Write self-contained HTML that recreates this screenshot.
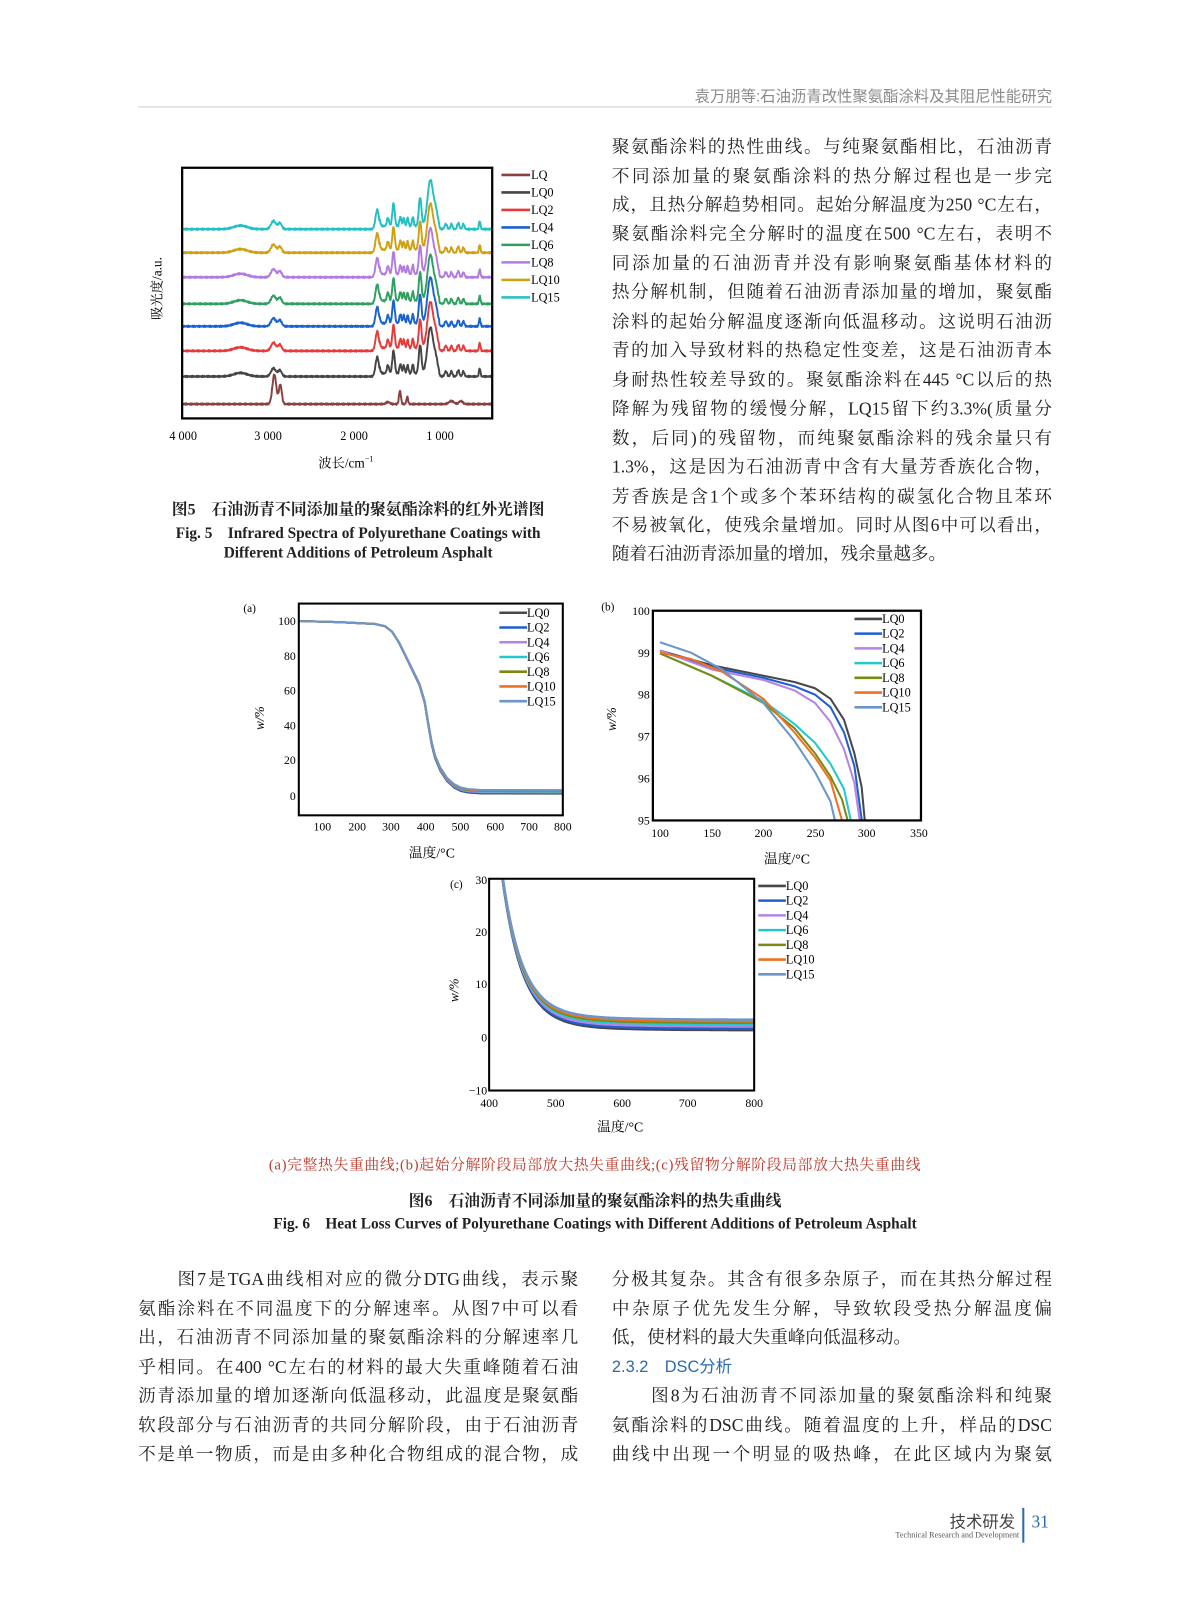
<!DOCTYPE html>
<html><head><meta charset="utf-8">
<style>
html,body{margin:0;padding:0;background:#fff;width:1187px;height:1600px;overflow:hidden}
#pg{position:absolute;left:0;top:0;width:1160px;height:1564px;transform:scale(1.0233,1.0230);transform-origin:0 0;font-family:"Liberation Serif","Noto Serif CJK SC",serif;color:#222}
.l{position:absolute;font-size:17.2px;line-height:20px;white-space:nowrap;text-align:justify;text-align-last:justify;height:22px}
.nl{text-align-last:left}
.cap{position:absolute;font-size:15.5px;font-weight:bold;white-space:nowrap;text-align:center}
svg text{font-family:"Liberation Serif","Noto Serif CJK SC",serif}
</style></head><body><div id="pg">
<div style="position:absolute;right:132px;top:83px;font-size:15px;color:#8a8a8a;font-family:'Liberation Sans','Noto Sans CJK SC',sans-serif">袁万朋等:石油沥青改性聚氨酯涂料及其阻尼性能研究</div>
<div style="position:absolute;left:135px;top:104px;width:893px;height:1px;background:#ccc"></div>

<svg id="s" width="1160" height="1564" style="position:absolute;left:0;top:0" font-size="12">
<g id="ir"></g>
<rect x="178" y="164" width="303" height="245" fill="none" stroke="#000" stroke-width="2.2"/>
<g font-size="12" text-anchor="middle">
<text x="179" y="430">4 000</text><text x="262" y="430">3 000</text><text x="346" y="430">2 000</text><text x="430" y="430">1 000</text>
<text x="338" y="457" font-size="13">波长/cm<tspan font-size="8" dy="-6">−1</tspan></text>
<text transform="translate(158,282) rotate(-90)" font-size="13">吸光度/a.u.</text>
</g>
<g id="irleg" font-size="12"></g>
<g id="ta"></g>
<rect x="292" y="590" width="258" height="207" fill="none" stroke="#000" stroke-width="2"/>
<g font-size="11.5" text-anchor="end">
<text x="289" y="611">100</text><text x="289" y="645">80</text><text x="289" y="679">60</text><text x="289" y="713">40</text><text x="289" y="747">20</text><text x="289" y="782">0</text>
</g>
<g font-size="11.5" text-anchor="middle">
<text x="315" y="812">100</text><text x="349" y="812">200</text><text x="382" y="812">300</text><text x="416" y="812">400</text><text x="450" y="812">500</text><text x="484" y="812">600</text><text x="517" y="812">700</text><text x="550" y="812">800</text>
<text x="422" y="838" font-size="13.5">温度/°C</text>
<text x="244" y="598" font-size="11">(a)</text>
<text transform="translate(258,702) rotate(-90)" font-size="13" font-style="italic">w/%</text>
</g>
<g id="tb"></g>
<rect x="638" y="597" width="262" height="205" fill="none" stroke="#000" stroke-width="2.2"/>
<g font-size="11.5" text-anchor="end">
<text x="635" y="601">100</text><text x="635" y="642">99</text><text x="635" y="683">98</text><text x="635" y="724">97</text><text x="635" y="765">96</text><text x="635" y="806">95</text>
</g>
<g font-size="11.5" text-anchor="middle">
<text x="645" y="818">100</text><text x="696" y="818">150</text><text x="746" y="818">200</text><text x="797" y="818">250</text><text x="847" y="818">300</text><text x="898" y="818">350</text>
<text x="769" y="844" font-size="13.5">温度/°C</text>
<text x="594" y="597" font-size="11">(b)</text>
<text transform="translate(602,703) rotate(-90)" font-size="13" font-style="italic">w/%</text>
</g>
<g id="tc"></g>
<rect x="478" y="859" width="259" height="207" fill="none" stroke="#000" stroke-width="2"/>
<g font-size="11.5" text-anchor="end">
<text x="476" y="864">30</text><text x="476" y="915">20</text><text x="476" y="966">10</text><text x="476" y="1018">0</text><text x="476" y="1070">−10</text>
</g>
<g font-size="11.5" text-anchor="middle">
<text x="478" y="1082">400</text><text x="543" y="1082">500</text><text x="608" y="1082">600</text><text x="672" y="1082">700</text><text x="737" y="1082">800</text>
<text x="606" y="1106" font-size="13.5">温度/°C</text>
<text x="446" y="868" font-size="11">(c)</text>
<text transform="translate(448,968) rotate(-90)" font-size="13" font-style="italic">w/%</text>
</g>
<g id="legs" font-size="12"></g>
</svg>

<div class="cap" style="left:130px;width:440px;top:486px">图5　石油沥青不同添加量的聚氨酯涂料的红外光谱图</div>
<div class="cap" style="left:130px;width:440px;top:510px;font-size:15px">Fig. 5　Infrared Spectra of Polyurethane Coatings with</div>
<div class="cap" style="left:130px;width:440px;top:533px;font-size:15px">Different Additions of Petroleum Asphalt</div>

<div class="l" style="left:598px;width:430px;top:134px">聚氨酯涂料的热性曲线。与纯聚氨酯相比，石油沥青</div>
<div class="l" style="left:598px;width:430px;top:163px">不同添加量的聚氨酯涂料的热分解过程也是一步完</div>
<div class="l" style="left:598px;width:430px;top:191px">成，且热分解趋势相同。起始分解温度为250 °C左右，</div>
<div class="l" style="left:598px;width:430px;top:219px">聚氨酯涂料完全分解时的温度在500 °C左右，表明不</div>
<div class="l" style="left:598px;width:430px;top:248px">同添加量的石油沥青并没有影响聚氨酯基体材料的</div>
<div class="l" style="left:598px;width:430px;top:276px">热分解机制，但随着石油沥青添加量的增加，聚氨酯</div>
<div class="l" style="left:598px;width:430px;top:305px">涂料的起始分解温度逐渐向低温移动。这说明石油沥</div>
<div class="l" style="left:598px;width:430px;top:333px">青的加入导致材料的热稳定性变差，这是石油沥青本</div>
<div class="l" style="left:598px;width:430px;top:362px">身耐热性较差导致的。聚氨酯涂料在445 °C以后的热</div>
<div class="l" style="left:598px;width:430px;top:390px">降解为残留物的缓慢分解，LQ15留下约3.3%(质量分</div>
<div class="l" style="left:598px;width:430px;top:419px">数，后同)的残留物，而纯聚氨酯涂料的残余量只有</div>
<div class="l" style="left:598px;width:430px;top:447px">1.3%，这是因为石油沥青中含有大量芳香族化合物，</div>
<div class="l" style="left:598px;width:430px;top:476px">芳香族是含1个或多个苯环结构的碳氢化合物且苯环</div>
<div class="l" style="left:598px;width:430px;top:504px">不易被氧化，使残余量增加。同时从图6中可以看出，</div>
<div class="l nl" style="left:598px;width:430px;top:532px">随着石油沥青添加量的增加，残余量越多。</div>

<div class="cap" style="left:135px;width:893px;top:1127px;color:#c0392b;font-weight:normal;font-size:14.5px;letter-spacing:0.6px">(a)完整热失重曲线;(b)起始分解阶段局部放大热失重曲线;(c)残留物分解阶段局部放大热失重曲线</div>
<div class="cap" style="left:135px;width:893px;top:1162px">图6　石油沥青不同添加量的聚氨酯涂料的热失重曲线</div>
<div class="cap" style="left:135px;width:893px;top:1185px;font-size:15px">Fig. 6　Heat Loss Curves of Polyurethane Coatings with Different Additions of Petroleum Asphalt</div>

<div class="l" style="left:135px;width:430px;top:1241px">　　图7是TGA曲线相对应的微分DTG曲线，表示聚</div>
<div class="l" style="left:135px;width:430px;top:1270px">氨酯涂料在不同温度下的分解速率。从图7中可以看</div>
<div class="l" style="left:135px;width:430px;top:1298px">出，石油沥青不同添加量的聚氨酯涂料的分解速率几</div>
<div class="l" style="left:135px;width:430px;top:1327px">乎相同。在400 °C左右的材料的最大失重峰随着石油</div>
<div class="l" style="left:135px;width:430px;top:1355px">沥青添加量的增加逐渐向低温移动，此温度是聚氨酯</div>
<div class="l" style="left:135px;width:430px;top:1384px">软段部分与石油沥青的共同分解阶段，由于石油沥青</div>
<div class="l" style="left:135px;width:430px;top:1412px">不是单一物质，而是由多种化合物组成的混合物，成</div>

<div class="l" style="left:598px;width:430px;top:1241px">分极其复杂。其含有很多杂原子，而在其热分解过程</div>
<div class="l" style="left:598px;width:430px;top:1270px">中杂原子优先发生分解，导致软段受热分解温度偏</div>
<div class="l nl" style="left:598px;width:430px;top:1298px">低，使材料的最大失重峰向低温移动。</div>
<div class="l nl" style="left:598px;width:430px;top:1327px;color:#2a6ab0;font-family:'Liberation Sans','Noto Sans CJK SC',sans-serif;font-size:16px">2.3.2　DSC分析</div>
<div class="l" style="left:598px;width:430px;top:1355px">　　图8为石油沥青不同添加量的聚氨酯涂料和纯聚</div>
<div class="l" style="left:598px;width:430px;top:1384px">氨酯涂料的DSC曲线。随着温度的上升，样品的DSC</div>
<div class="l" style="left:598px;width:430px;top:1412px">曲线中出现一个明显的吸热峰，在此区域内为聚氨</div>

<div style="position:absolute;left:928px;top:1474px;font-size:16px;color:#444;font-family:'Liberation Sans','Noto Sans CJK SC',sans-serif">技术研发</div>
<div style="position:absolute;left:840px;top:1496px;font-size:8px;color:#555;width:156px;text-align:right">Technical Research and Development</div>
<div style="position:absolute;left:999px;top:1474px;width:2px;height:34px;background:#2a6ab0"></div>
<div style="position:absolute;left:1008px;top:1478px;font-size:17px;color:#2a6ab0">31</div>
</div>
<script>
var NS="http://www.w3.org/2000/svg";
function add(g,tag,at){var e=document.createElementNS(NS,tag);for(var k in at)e.setAttribute(k,at[k]);document.getElementById(g).appendChild(e);return e;}
function path(g,pts,c,w,clip){var d="";pts.forEach(function(p,i){d+=(i?"L":"M")+p[0].toFixed(1)+" "+p[1].toFixed(1);});var a={d:d,fill:"none",stroke:c,"stroke-width":w||1.8,"stroke-linejoin":"round"};if(clip)a["clip-path"]=clip;add(g,"path",a);}
var s=document.getElementById("s");
var defs=document.createElementNS(NS,"defs");
defs.innerHTML='<clipPath id="cb"><rect x="638" y="597" width="262" height="205"/></clipPath><clipPath id="cc"><rect x="478" y="859" width="259" height="207"/></clipPath><clipPath id="ca"><rect x="292" y="590" width="258" height="207"/></clipPath>';
s.insertBefore(defs,s.firstChild);
function gs(x,c,h,w){return h*Math.exp(-Math.pow((x-c)/w,2));}
var PU=[[3320,3.5,110],[2935,8,40],[2860,6,30],[1725,19,28],[1600,8,18],[1535,22,20],[1455,9,16],[1415,8,14],[1370,8,14],[1310,9,14],[1225,28,22],[1105,45,48],[1040,12,30],[925,5,20],[860,5,16],[780,6,18],[720,5,16],[530,8,12]];
var AS=[[2925,29,32],[2855,19,24],[1600,2,30],[1460,13,16],[1375,7,14],[860,3,40],[750,3,30]];
var irc=[["LQ","#8b4040",395,AS],["LQ0","#454545",368,PU],["LQ2","#e83a3a",343,PU],["LQ4","#1a62d0",319,PU],["LQ6","#2fa060",297,PU],["LQ8","#b27ae2",271,PU],["LQ10","#d0a010",247,PU],["LQ15","#22c0c4",224,PU]];
irc.forEach(function(c,k){var pts=[];for(var cm=4000;cm>=384;cm-=4){var y=c[2];c[3].forEach(function(p){y-=gs(cm,p[0],p[1],p[2]);});y+=0.5*Math.sin(cm*0.37+k)+0.3*Math.sin(cm*1.3);if(c[3]===PU&&cm<1700&&cm>1000)y-=3;pts.push([178+(4000-cm)*0.0838,y]);}path("ir",pts,c[1],1.9);});
irc.forEach(function(c,i){var y=171+i*17.1;add("irleg","line",{x1:490,x2:518,y1:y,y2:y,stroke:c[1],"stroke-width":2.5});var t=add("irleg","text",{x:519,y:y+4});t.textContent=c[0];});
var tc=[["LQ0","#484848",1.3],["LQ2","#1f5fd0",1.6],["LQ4","#b585e5",2.0],["LQ6","#22c8cc",2.4],["LQ8","#7a8a12",2.7],["LQ10","#f07022",3.0],["LQ15","#6a96cc",3.3]];
var base=[[30,100],[150,99.3],[250,98.3],[280,97],[300,94],[320,88],[340,80],[360,72],[380,64],[395,54],[405,42],[415,31],[425,23],[440,16],[460,10],[480,6.5],[500,4.5],[520,3.6],[560,3.1],[800,3]];
tc.forEach(function(c){var pts=base.map(function(p){var w=c[2]+(p[1]-3)*(100-c[2])/97;return [292+(p[0]-30)*0.337,778-w*1.71];});path("ta",pts,c[1],2,"url(#ca)");
var p2=[];for(var T=415;T<=800;T+=4){var w=c[2]+(40-c[2])*Math.exp(-(T-410)/30)+0.6*Math.exp(-(T-500)/120);p2.push([478+(T-400)*0.6475,1014-w*5.15]);}path("tc",p2,c[1],2.4,"url(#cc)");});
var bd=[[[100,99.05],[150,98.7],[200,98.45],[230,98.3],[250,98.15],[265,97.9],[278,97.4],[288,96.6],[295,95.8],[300,94.5]],
[[100,99.05],[150,98.65],[200,98.4],[230,98.2],[250,98.0],[265,97.7],[278,97.1],[288,96.3],[298,94.5]],
[[100,99.05],[150,98.6],[200,98.35],[230,98.1],[250,97.8],[265,97.35],[278,96.7],[288,95.9],[296,94.5]],
[[100,98.98],[150,98.45],[200,97.85],[230,97.3],[250,96.85],[265,96.35],[278,95.75],[289,94.5]],
[[100,98.98],[150,98.45],[200,97.8],[230,97.2],[250,96.6],[265,96.05],[276,95.5],[287,94.5]],
[[100,99.0],[130,98.85],[160,98.55],[200,97.9],[230,97.1],[250,96.5],[265,95.95],[282,94.5]],
[[100,99.25],[130,99.0],[160,98.6],[200,97.8],[230,96.9],[250,96.15],[265,95.45],[274,94.5]]];
bd.forEach(function(b,i){path("tb",b.map(function(p){return [645+(p[0]-100)*1.01,597+(100-p[1])*41];}),tc[i][1],2,"url(#cb)");});
[[488,599],[835,605],[741,866]].forEach(function(L){tc.forEach(function(c,i){var y=L[1]+i*14.4;add("legs","line",{x1:L[0],x2:L[0]+27,y1:y,y2:y,stroke:c[1],"stroke-width":2.5});var t=add("legs","text",{x:L[0]+27,y:y+4});t.textContent=c[0];});});
</script>
</body></html>
